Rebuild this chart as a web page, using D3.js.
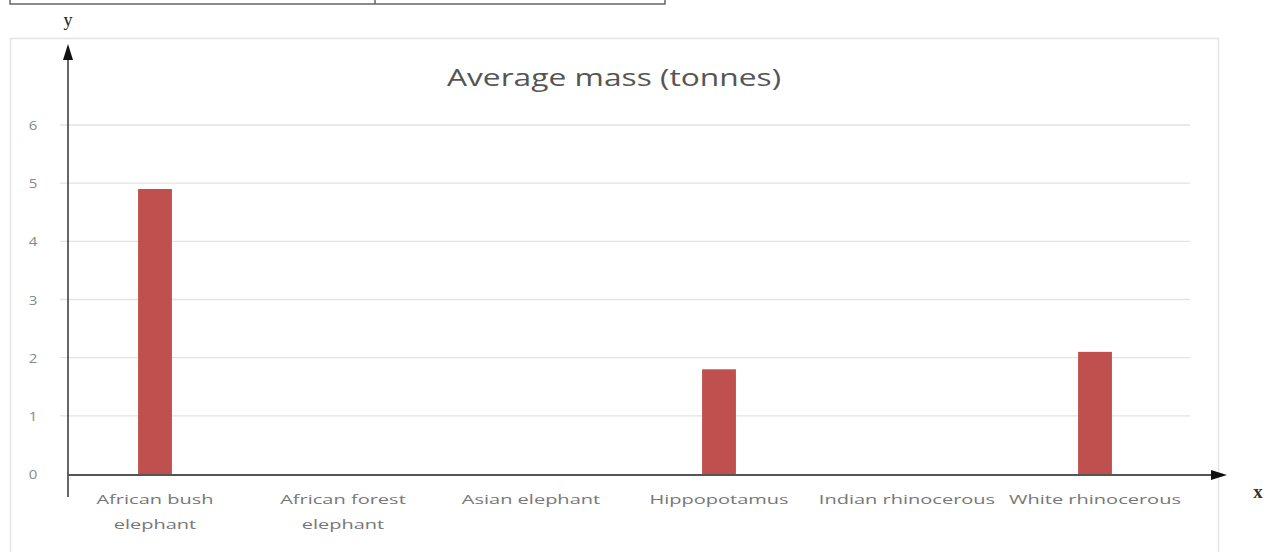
<!DOCTYPE html>
<html><head><meta charset="utf-8">
<script src="https://cdn.jsdelivr.net/npm/d3@7/dist/d3.min.js"></script>
<style>body{margin:0;background:#fff}svg{display:block}</style>
</head><body>
<svg id="c" width="1266" height="552"></svg>
<script>
const categories = ["African bush elephant","African forest elephant","Asian elephant","Hippopotamus","Indian rhinocerous","White rhinocerous"];
const labelLines = [["African bush","elephant"],["African forest","elephant"],["Asian elephant"],["Hippopotamus"],["Indian rhinocerous"],["White rhinocerous"]];
const values = [4.9, null, null, 1.8, null, 2.1];
const yTicks = [0,1,2,3,4,5,6];
const title = "Average mass (tonnes)";

const svg = d3.select("#c");
const x = d3.scaleBand().domain(categories).range([61, 1189]);
const y = d3.scaleLinear().domain([0,6]).range([474,125]);

function stretch(sel, f){
  sel.each(function(){
    const w = this.getComputedTextLength();
    d3.select(this).attr("textLength", w*f).attr("lengthAdjust","spacingAndGlyphs");
  });
}

// top table fragment
svg.append("path").attr("d","M10,0V4H665V0M375,0V4").attr("fill","none").attr("stroke","#666").attr("stroke-width",1.5);

// chart frame
svg.append("rect").attr("x",10.5).attr("y",38.5).attr("width",1208).attr("height",530)
  .attr("fill","#fff").attr("stroke","#e4e4e4").attr("stroke-width",1.5);

// gridlines
svg.append("g").selectAll("line").data(yTicks.filter(d=>d>0)).join("line")
  .attr("x1",60).attr("x2",1190).attr("y1",d=>y(d)).attr("y2",d=>y(d))
  .attr("stroke","#e3e3e3").attr("stroke-width",1.3);

// y tick labels
const yl = svg.append("g").selectAll("text").data(yTicks).join("text")
  .attr("x",33).attr("y",d=>y(d)+5).attr("text-anchor","middle")
  .attr("font-family","Open Sans, sans-serif").attr("font-size",12.5).attr("fill","#888").text(d=>d);
stretch(yl, 1.2);

// title
const tt = svg.append("text").attr("x",614).attr("y",86).attr("text-anchor","middle")
  .attr("font-family","Open Sans, sans-serif").attr("font-size",23).attr("fill","#555").text(title);
stretch(tt, 1.38);

// bars
const bw = x.bandwidth()*0.18;
svg.append("g").selectAll("rect").data(categories.map((c,i)=>({c,v:values[i]})).filter(d=>d.v!=null)).join("rect")
  .attr("x",d=>x(d.c)+x.bandwidth()/2-bw/2).attr("width",bw)
  .attr("y",d=>y(d.v)).attr("height",d=>y(0)-y(d.v)).attr("fill","#c0504d");

// x category labels
const lbl = [];
categories.forEach((c,i)=>labelLines[i].forEach((l,j)=>lbl.push({c,l,j})));
const lg = svg.append("g").selectAll("text").data(lbl).join("text")
  .attr("x",d=>x(d.c)+x.bandwidth()/2).attr("y",d=>504+d.j*25).attr("text-anchor","middle")
  .attr("font-family","Open Sans, sans-serif").attr("font-size",12.5).attr("fill","#777").text(d=>d.l);
stretch(lg, 1.6);

// axes with arrows
svg.append("line").attr("x1",68).attr("x2",68).attr("y1",56).attr("y2",497).attr("stroke","#333").attr("stroke-width",1.5);
svg.append("path").attr("d","M68,44L63,60L73,60Z").attr("fill","#111");
svg.append("line").attr("x1",68).attr("x2",1214).attr("y1",475).attr("y2",475).attr("stroke","#555").attr("stroke-width",2);
svg.append("path").attr("d","M1227,475L1211,470L1211,480Z").attr("fill","#111");

svg.append("text").attr("x",68).attr("y",26).attr("text-anchor","middle").attr("font-family","Liberation Serif, serif").attr("font-size",18).attr("fill","#222").text("y");
svg.append("text").attr("x",1258).attr("y",498).attr("text-anchor","middle").attr("font-family","Liberation Serif, serif").attr("font-size",19).attr("font-weight","bold").attr("fill","#333").text("x");
</script>
</body></html>
